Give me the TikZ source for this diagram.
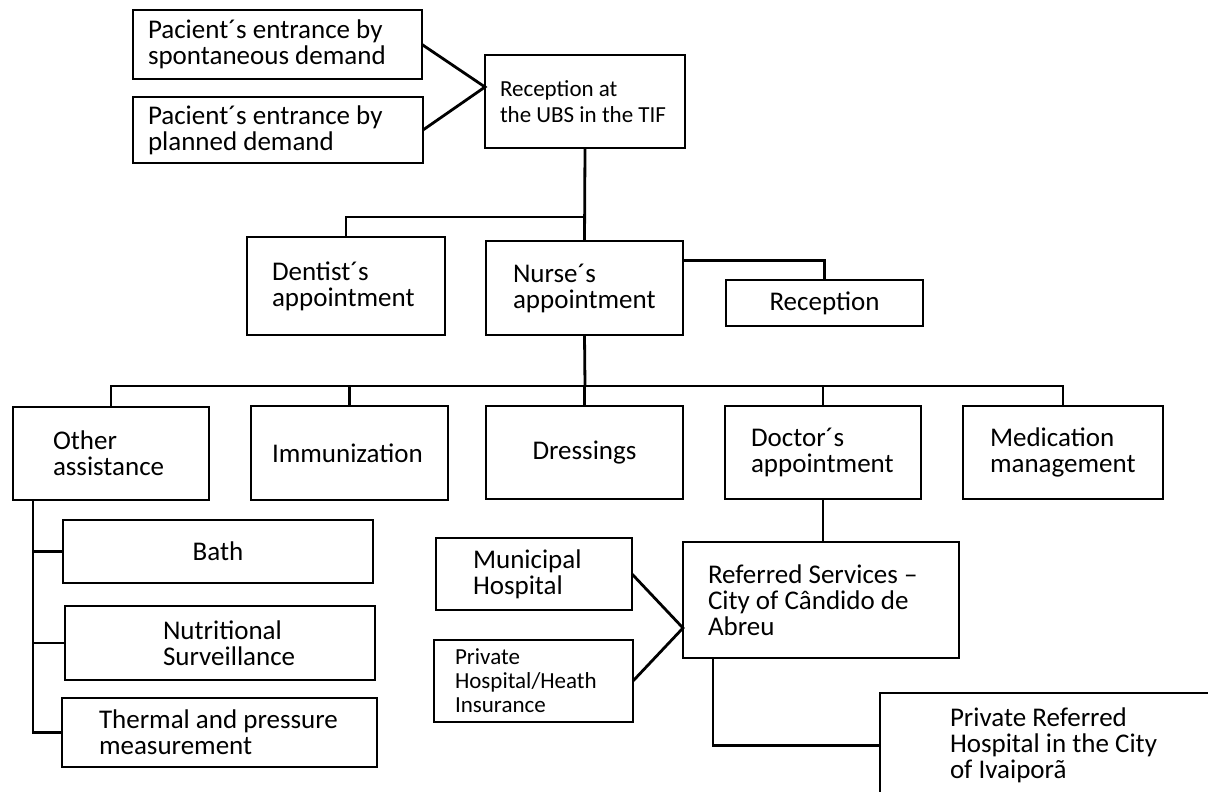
\documentclass[tikz,border=0pt]{standalone}
\usepackage{fontspec}
\setmainfont{Carlito}
\usetikzlibrary{calc,positioning}
\newcommand\nohyph{\hyphenpenalty=10000\exhyphenpenalty=10000\lineskiplimit=-20pt}
\newcommand\txtbig{\fontsize{27}{26}\selectfont\nohyph}
\newcommand\txtsmall{\fontsize{23}{26}\selectfont\nohyph}
\newcommand\txtsmaller{\fontsize{23}{24}\selectfont\nohyph}

\begin{document}
\begin{tikzpicture}[x=1pt,y=-1pt,
  box/.style={draw,line width=2.8pt,inner ysep=0pt,outer sep=0pt,font=\txtbig,align=flush left},
  boxsz/.style n args={4}{minimum width=#1,minimum height=#2,inner xsep=#3,text width=#4},
  link/.style={line width=2.8pt}]
\useasboundingbox (0,0) rectangle (1208,792);

% entrances and reception at the UBS
\node[box,boxsz={289pt}{69pt}{15pt}{259pt}] (pA) at (277.5,44.5) {Pacient´s entrance by\\spontaneous demand};
\node[box,boxsz={290pt}{66pt}{15pt}{260pt}] (pB) at (278,130) {Pacient´s entrance by\\planned demand};
\node[box,font=\txtsmall,boxsz={200pt}{93pt}{15pt}{170pt}] (ubs) at (585,101.5) {Reception at\\the UBS in the TIF};
\coordinate (ubsin) at (485,87);
\draw[link] (pA.east) -- (ubsin) -- (pB.east);

% appointments
\node[box,boxsz={198pt}{98pt}{25pt}{148pt}] (dent) at (346,286) {Dentist´s\\appointment};
\node[box,boxsz={197pt}{94pt}{27pt}{143pt}] (nurse) at (584.5,288) {Nurse´s\\appointment};
\node[box,align=flush center,boxsz={197pt}{46pt}{18.5pt}{160pt}] (recep) at (824.5,303) {Reception};
\coordinate (j1) at (585,217);
\draw[link] (ubs.south) -- (nurse.north);
\draw[link] (j1) -| (dent.north);
\draw[link] ($(nurse.north east)!0.21!(nurse.south east)$) -| (recep.north);

% nurse's services
\node[box,boxsz={196pt}{93pt}{40pt}{116pt}] (other) at (111,453.5) {Other\\assistance};
\node[box,boxsz={197pt}{94pt}{21pt}{155pt}] (immu) at (349.5,453) {Immunization};
\node[box,align=flush center,boxsz={197pt}{93pt}{20pt}{157pt}] (dress) at (584.5,452.5) {Dressings};
\node[box,boxsz={196pt}{93pt}{26pt}{144pt}] (doctor) at (823,452.5) {Doctor´s\\appointment};
\node[box,boxsz={200pt}{93pt}{27pt}{146pt}] (medic) at (1063,452.5) {Medication\\management};
\coordinate (j2) at (585,386);
\draw[link] (nurse.south) -- (j2);
\draw[link] (other.north) -- (other.north |- j2) -- (medic.north |- j2) -- (medic.north);
\foreach \n in {immu,dress,doctor}
  \draw[link] (\n.north) -- (\n.north |- j2);

% other assistance
\node[box,align=flush center,boxsz={310pt}{63pt}{20pt}{270pt}] (bath) at (218,551.5) {Bath};
\node[box,boxsz={310pt}{74pt}{98pt}{114pt}] (nutri) at (220,643) {Nutritional\\Surveillance};
\node[box,boxsz={315pt}{69pt}{37pt}{241pt}] (therm) at (219.5,732.5) {Thermal and pressure\\measurement};
\coordinate (o1) at ($(other.south west)+(20,0)$);
\draw[link] (o1) -- (o1 |- therm.west) -- (therm.west);
\foreach \n in {bath,nutri}
  \draw[link] (o1 |- \n.west) -- (\n.west);

% referred services
\node[box,boxsz={276pt}{116pt}{25pt}{226pt}] (refs) at (821,600) {Referred Services --\\City of Cândido de\\Abreu};
\draw[link] (doctor.south) -- (doctor.south |- refs.north);
\node[box,boxsz={196pt}{72pt}{37pt}{122pt}] (munic) at (534,574) {Municipal\\Hospital};
\node[box,font=\txtsmaller,boxsz={199pt}{82pt}{21pt}{157pt}] (privh) at (533.5,681) {Private\\Hospital/Heath\\Insurance};
\coordinate (refin) at (683,628);
\draw[link] (munic.east) -- (refin) -- (privh.east);
\node[box,boxsz={370pt}{105pt}{70pt}{230pt}] (privref) at (1065,745.5) {Private Referred\\Hospital in the City\\of Ivaiporã};
\coordinate (r1) at ($(refs.south west)+(30,0)$);
\draw[link] (r1) |- (privref.west);
\end{tikzpicture}
\end{document}
